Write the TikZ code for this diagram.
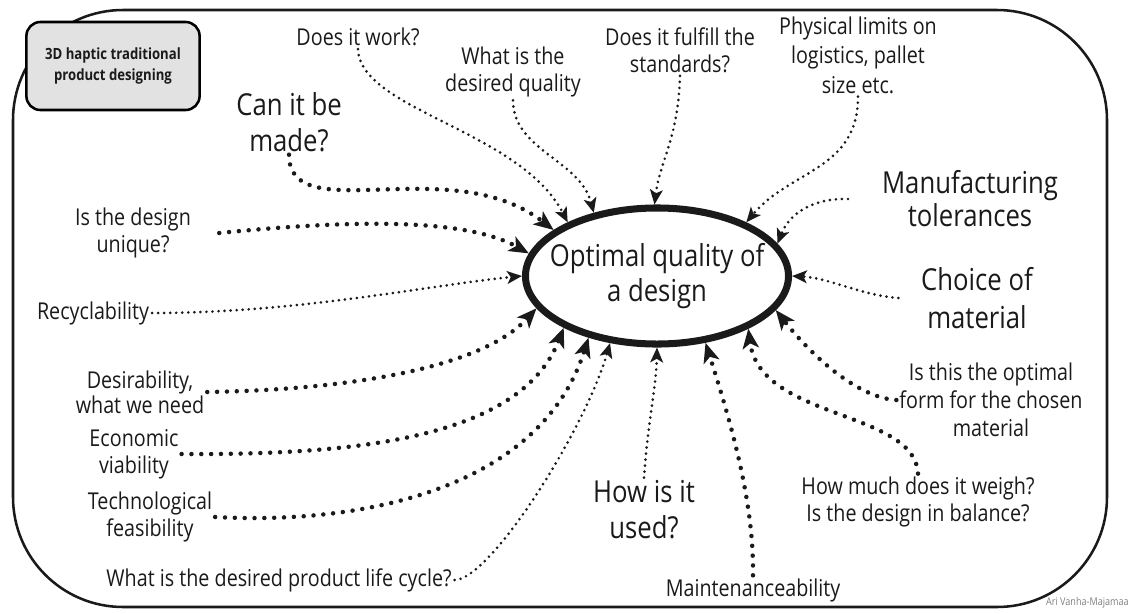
\documentclass[tikz,border=0pt]{standalone}
\usepackage{fontspec}
\setmainfont{Open Sans}[FakeStretch=0.85]
\usepackage{xcolor}
\usetikzlibrary{arrows.meta,shapes.geometric}

\definecolor{ink}{HTML}{1A1A1A}
\definecolor{tagfill}{HTML}{E2E2E2}

\begin{document}
\begin{tikzpicture}[->,>={Stealth[length=10.5pt,width=9pt,inset=2.5pt]},
                    x=0.025cm,y=-0.025cm,line cap=round]
\tikzstyle{every node}=[text=ink,align=center,inner sep=2pt]
\tikzstyle{bigtext}=[font=\fontsize{21.5}{25.5}\selectfont]
\tikzstyle{midtext}=[font=\fontsize{16.5}{19.5}\selectfont]
\tikzstyle{fine}=[draw=ink,line width=2.1pt,dash pattern=on 0pt off 4.3pt]
\tikzstyle{coarse}=[draw=ink,line width=3.2pt,dash pattern=on 0pt off 7pt,
                    >={Stealth[length=14pt,width=11.5pt,inset=3.5pt]}]
\useasboundingbox (0,0) rectangle (1132,613);

% frame
\draw[-,ink,line width=1.8pt,rounded corners=2.75cm] (13,10) rectangle (1107,607);
\node[draw,line width=1.8pt,fill=tagfill,rounded corners=10pt,
      minimum width=4.33cm,minimum height=2.2cm,
      font=\bfseries\fontsize{11}{14.5}\selectfont] (tag) at (113,66)
      {3D haptic traditional\\product designing};
\node[text=gray,font=\fontsize{7.6}{8}\selectfont,anchor=east,inner sep=0pt]
      (credit) at (1129,603) {Ari Vanha-Majamaa};

% the centre
\node[draw=ink,ellipse,line width=5pt,minimum width=6.575cm,minimum height=3.4cm,
      label={[bigtext]center:Optimal quality of\\a design}] (opt) at (657,276) {};

% questions round it
\node[midtext] (work) at (358,37) {Does it work?};
\node[midtext] (quality) at (513,72) {What is the\\desired quality};
\node[midtext] (standards) at (680,50) {Does it fulfill the\\standards?};
\node[midtext,font=\fontsize{16.5}{21}\selectfont] (logistics) at (858,55)
      {Physical limits on\\logistics, pallet\\size etc.};
\node[bigtext] (made) at (289,122) {Can it be\\made?};
\node[midtext] (unique) at (133,233) {Is the design\\unique?};
\node[midtext] (recycle) at (93,313) {Recyclability};
\node[midtext,font=\fontsize{16.5}{15}\selectfont] (desire) at (140,392)
      {Desirability,\\what we need};
\node[midtext] (economy) at (134,454) {Economic\\viability};
\node[midtext] (techno) at (150,517) {Technological\\feasibility};
\node[midtext] (lifecycle) at (279,580) {What is the desired product life cycle?};
\node[bigtext] (usage) at (644,510) {How is it\\used?};
\node[midtext] (maintain) at (753,590) {Maintenanceability};
\node[midtext] (weigh) at (918,502) {How much does it weigh?\\Is the design in balance?};
\node[midtext,font=\fontsize{16.5}{20}\selectfont] (form) at (991,400)
      {Is this the optimal\\form for the chosen\\material};
\node[bigtext,font=\fontsize{21.5}{26.5}\selectfont] (material) at (977,298)
      {Choice of\\material};
\node[bigtext,font=\fontsize{21.5}{23.5}\selectfont] (tolerance) at (970,199)
      {Manufacturing\\tolerances};

% dotted arrows into the centre
\draw[fine] (work.south) .. controls (360,110) and (520,130) .. (opt.149);
\draw[fine] (quality.south) .. controls (513,150) and (580,160) .. (opt.135);
\draw[fine] (standards.south) .. controls (678,140) and (660,160) .. (opt.92);
\draw[fine] (logistics.south) .. controls (858,170) and (790,170) .. (opt.31);
\draw[fine] ([xshift=-22pt]tolerance.west) .. controls (815,198) and (790,212) .. (opt.15);
\draw[fine] ([xshift=-14pt]material.west) .. controls (860,295) and (830,278) .. (opt.0);
\draw[coarse] (form.west) .. controls (860,398) and (815,360) .. (opt.344);
\draw[coarse] (weigh.north) .. controls (915,410) and (760,420) .. (opt.330);
\draw[coarse] (maintain.north) .. controls (754,500) and (730,420) .. (opt.306);
\draw[fine] (usage.north) .. controls (648,420) and (656,390) .. (opt.270);
\draw[fine] (lifecycle.east) .. controls (490,580) and (585,430) .. (opt.235);
\draw[coarse] (techno.east) .. controls (360,525) and (540,490) .. (opt.222);
\draw[coarse] (economy.east) .. controls (350,455) and (520,440) .. (opt.209);
\draw[coarse] (desire.east) .. controls (340,390) and (480,370) .. (opt.195);
\draw[fine] (recycle.east) .. controls (300,313) and (430,285) .. (opt.180);
\draw[coarse] ([xshift=18pt]unique.east) .. controls (330,222) and (460,215) .. (opt.170);
\draw[coarse] (made.south) .. controls (289,230) and (450,150) .. (opt.156);
\end{tikzpicture}
\end{document}
